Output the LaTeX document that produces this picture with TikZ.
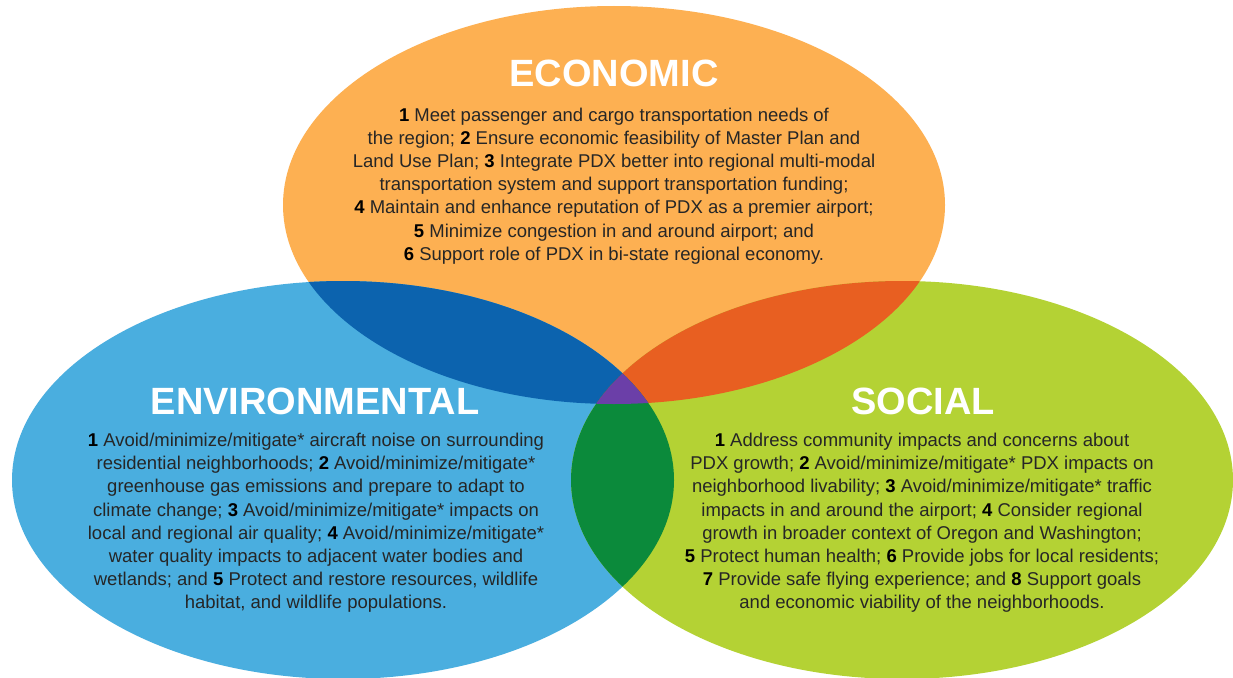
\documentclass[tikz,border=0pt]{standalone}
\usepackage{fontspec}
\setmainfont{Liberation Sans}

\definecolor{econ}{HTML}{FDB052}
\definecolor{envi}{HTML}{4AAEDF}
\definecolor{soci}{HTML}{B4D234}
\definecolor{econenvi}{HTML}{0C63AE}
\definecolor{econsoci}{HTML}{E85F21}
\definecolor{envisoci}{HTML}{0B8A3B}
\definecolor{allthree}{HTML}{6B3FA8}
\definecolor{bodytext}{HTML}{262626}

% the three circles of the diagram
\newcommand\econshape{(614,205) ellipse [x radius=331, y radius=199]}
\newcommand\envishape{(343,480) ellipse [x radius=331, y radius=199]}
\newcommand\socishape{(902,480) ellipse [x radius=331, y radius=199]}
\newcommand\goal[1]{\textbf{\color{black}#1}}

\begin{document}
\begin{tikzpicture}[
        x = 1pt,
        y = -1pt,
        title/.style = {text=white, inner sep=0pt,
            font=\fontsize{38}{40}\selectfont\bfseries},
        body/.style = {text=bodytext, align=center, inner sep=0pt,
            font=\fontsize{18.5}{23.2}\selectfont}
    ]
        \fill[white] (0,0) rectangle (1233,677);
        \useasboundingbox (0,0) rectangle (1233,677);

        \fill[econ] \econshape;
        \fill[envi] \envishape;
        \fill[soci] \socishape;
        % overlaps
        \begin{scope}
            \clip \envishape;
            \fill[econenvi] \econshape;
        \end{scope}
        \begin{scope}
            \clip \econshape;
            \fill[econsoci] \socishape;
        \end{scope}
        \begin{scope}
            \clip \envishape;
            \fill[envisoci] \socishape;
        \end{scope}
        \begin{scope}
            \clip \envishape;
            \clip \econshape;
            \fill[allthree] \socishape;
        \end{scope}

        \node[title] (econtitle) at (614, 73) {ECONOMIC};
        \node[body] (econtext) at (614, 186) {%
            \goal{1} Meet passenger and cargo transportation needs of\\
            the region; \goal{2} Ensure economic feasibility of Master Plan and\\
            Land Use Plan; \goal{3} Integrate PDX better into regional multi-modal\\
            transportation system and support transportation funding;\\
            \goal{4} Maintain and enhance reputation of PDX as a premier airport;\\
            \goal{5} Minimize congestion in and around airport; and\\
            \goal{6} Support role of PDX in bi-state regional economy.};

        \node[title] (envititle) at (315, 401) {ENVIRONMENTAL};
        \node[body] (envitext) at (316, 523) {%
            \goal{1} Avoid/minimize/mitigate* aircraft noise on surrounding\\
            residential neighborhoods; \goal{2} Avoid/minimize/mitigate*\\
            greenhouse gas emissions and prepare to adapt to\\
            climate change; \goal{3} Avoid/minimize/mitigate* impacts on\\
            local and regional air quality; \goal{4} Avoid/minimize/mitigate*\\
            water quality impacts to adjacent water bodies and\\
            wetlands; and \goal{5} Protect and restore resources, wildlife\\
            habitat, and wildlife populations.};

        \node[title] (socititle) at (923, 401) {SOCIAL};
        \node[body] (socitext) at (922, 523) {%
            \goal{1} Address community impacts and concerns about\\
            PDX growth; \goal{2} Avoid/minimize/mitigate* PDX impacts on\\
            neighborhood livability; \goal{3} Avoid/minimize/mitigate* traffic\\
            impacts in and around the airport; \goal{4} Consider regional\\
            growth in broader context of Oregon and Washington;\\
            \goal{5} Protect human health; \goal{6} Provide jobs for local residents;\\
            \goal{7} Provide safe flying experience; and \goal{8} Support goals\\
            and economic viability of the neighborhoods.};
    \end{tikzpicture}
\end{document}
